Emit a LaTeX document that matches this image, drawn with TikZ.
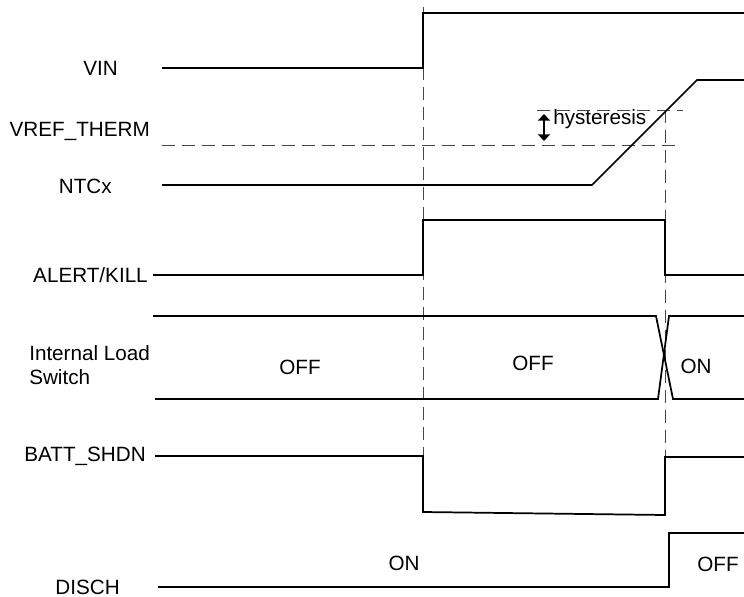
\documentclass[tikz,border=0pt]{standalone}
\usepackage{fontspec}
\setmainfont{Liberation Sans}
\usetikzlibrary{arrows.meta}
\definecolor{wavecolor}{RGB}{0,0,0}
\definecolor{guidecolor}{RGB}{70,70,70}
\tikzstyle{wave}=[line width=1.3pt,wavecolor,line join=miter]
\tikzstyle{guide}=[dash pattern=on 10pt off 5pt,line width=0.7pt,guidecolor]
\tikzstyle{signal label}=[anchor=east,inner sep=0pt,font=\fontsize{15.5}{18}\selectfont]
\tikzstyle{state label}=[inner sep=0pt,font=\fontsize{15.5}{18}\selectfont]
\tikzstyle{hysarrow}=[{Triangle[width=9pt,length=5pt]}-{Triangle[width=9pt,length=5pt]},line width=1.3pt]

\begin{document}
\begin{tikzpicture}[x=0.75pt,y=-0.75pt]
\def\tA{423}
\def\tB{665}
\def\tEnd{744}
\useasboundingbox (0,0) rectangle (744,597);

	% Signal names
    \node[signal label] (L-vin) at (118,68) {VIN};
    \node[signal label] (L-vref) at (150,131) {VREF\_THERM};
    \node[signal label] (L-ntc) at (112,186) {NTCx};
    \node[signal label] (L-alert) at (148,275) {ALERT/KILL};
    \node[signal label, anchor=west] (L-ils1) at (29,353) {Internal Load};
    \node[signal label, anchor=west] (L-ils2) at (29,377) {Switch};
    \node[signal label] (L-batt) at (146,456) {BATT\_SHDN};
    \node[signal label] (L-disch) at (120,587) {DISCH};

	% Guide lines
    \draw[guide] (\tA,7) -- (\tA,456);
    \draw[guide] (\tB,110) -- (\tB,457);
    \draw[guide] (162,145) -- (680,145);
    \draw[guide] (537,110) -- (683,110);

    % Waveforms
    \draw[wave] (162,68) -- (\tA,68) -- (\tA,13) -- (\tEnd,13);
    \draw[wave] (162,185) -- (592,185) -- (697,80) -- (\tEnd,80);
    \draw[wave] (153,275) -- (\tA,275) -- (\tA,220) -- (\tB,220) -- (\tB,275) -- (\tEnd,275);
    \draw[wave] (153,316) -- (656,316) -- (673,399) -- (\tEnd,399);
    \draw[wave] (155,399) -- (658,399) -- (669,316) -- (\tEnd,316);
    \draw[wave] (155,456) -- (\tA,456) -- (\tA,512) -- (\tB,515) -- (\tB,457) -- (\tEnd,457);
    \draw[wave] (158,587) -- (669,587) -- (669,533) -- (\tEnd,533);

    % Hysteresis
    \coordinate (H-top) at (544,114);
    \coordinate (H-bot) at (544,141);
    \draw[hysarrow] (H-top) -- (H-bot);
    \node[state label, anchor=west] (L-hys) at (553,119) {hysteresis};

    % States
    \node[state label] (S-off1) at (300,367) {OFF};
    \node[state label] (S-off2) at (533,363) {OFF};
    \node[state label] (S-on1) at (696,366) {ON};
    \node[state label] (S-on2) at (404,563) {ON};
    \node[state label] (S-off3) at (718,564) {OFF};

\end{tikzpicture}
\end{document}
